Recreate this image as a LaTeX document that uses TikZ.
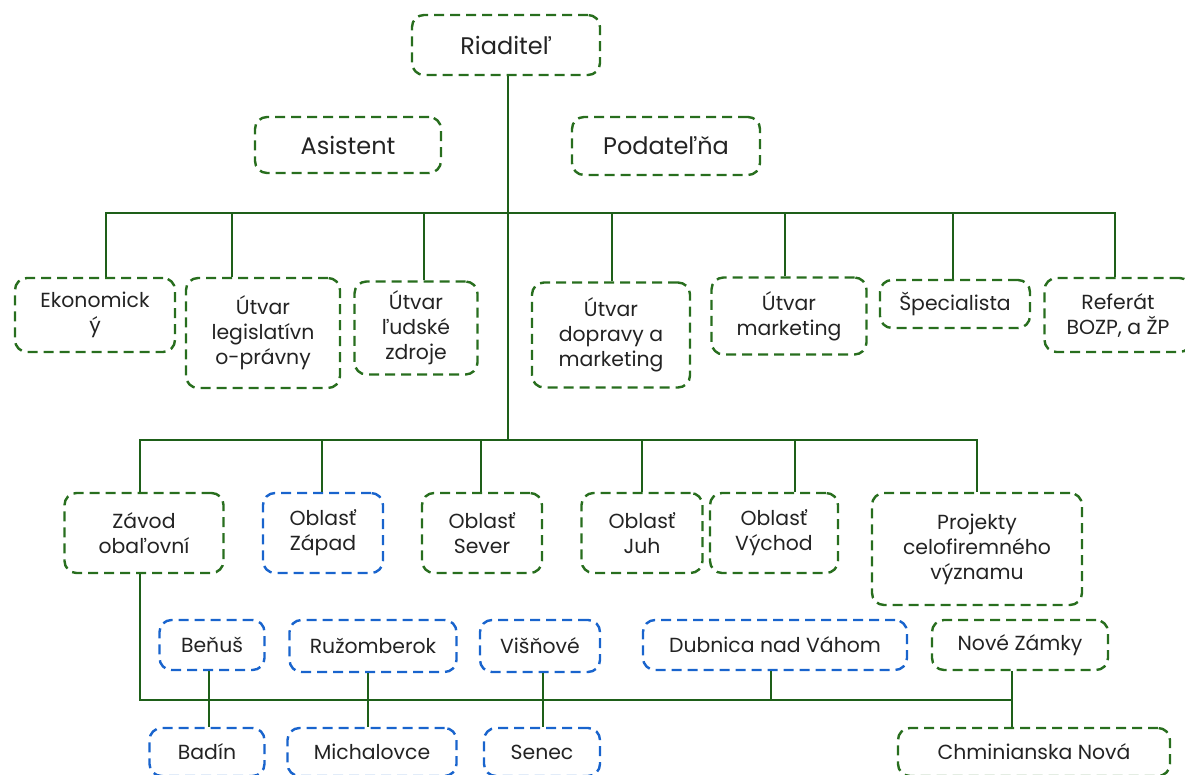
\documentclass[tikz,border=0pt]{standalone}
\usepackage{fontspec}
\setmainfont{Poppins}
\usepackage{tikz}
\definecolor{boxgreen}{RGB}{40,110,30}
\definecolor{linegreen}{RGB}{30,95,25}
\definecolor{boxblue}{RGB}{25,100,205}
\definecolor{txtgray}{RGB}{35,35,35}
\tikzset{
	gbox/.style={draw=boxgreen, line width=1.2pt, dash pattern=on 5pt off 3pt,
		rounded corners=6pt, align=center, inner sep=0pt, text=txtgray,
		font=\fontsize{10.2}{12.5}\selectfont},
	bbox/.style={gbox, draw=boxblue},
	bigbox/.style={gbox, font=\fontsize{12}{14}\selectfont},
	conn/.style={draw=linegreen, line width=1.1pt}
}

\begin{document}
\begin{tikzpicture}
	[ x=0.5pt, y=-0.5pt ]
	\useasboundingbox (0,0) rectangle (1185,775);
	% vedenie
	\node(riad)[bigbox, minimum width=94pt, minimum height=30pt] at (506,45) {Riaditeľ};
	\node(asist)[bigbox, minimum width=93pt, minimum height=28pt] at (348,145) {Asistent};
	\node(podat)[bigbox, minimum width=94pt, minimum height=29pt] at (666,146) {Podateľňa};
	% utvary
	\node(ekon)[gbox, minimum width=80pt, minimum height=37pt] at (95,315) {Ekonomick\\ý};
	\node(legis)[gbox, minimum width=77pt, minimum height=55pt] at (263,333) {Útvar\\legislatívn\\o-právny};
	\node(ludske)[gbox, minimum width=61.5pt, minimum height=46.5pt] at (416,328) {Útvar\\ľudské\\zdroje};
	\node(dopr)[gbox, minimum width=79pt, minimum height=52.5pt] at (611,335) {Útvar\\dopravy a\\marketing};
	\node(mark)[gbox, minimum width=77.5pt, minimum height=38.5pt] at (789,316) {Útvar\\marketing};
	\node(spec)[gbox, minimum width=75pt, minimum height=24pt] at (955,304) {Špecialista};
	\node(ref)[gbox, minimum width=73.5pt, minimum height=37pt] at (1118,315) {Referát\\BOZP, a ŽP};
	% oblasti
	\node(zavod)[gbox, minimum width=79.5pt, minimum height=40pt] at (144,533) {Závod\\obaľovní};
	\node(zapad)[bbox, minimum width=60pt, minimum height=40pt] at (323,533) {Oblasť\\Západ};
	\node(sever)[gbox, minimum width=60pt, minimum height=40pt] at (482,533) {Oblasť\\Sever};
	\node(juh)[gbox, minimum width=60.5pt, minimum height=40pt] at (642,533) {Oblasť\\Juh};
	\node(vych)[gbox, minimum width=64pt, minimum height=40pt] at (774,533) {Oblasť\\Východ};
	\node(proj)[gbox, minimum width=105pt, minimum height=56pt] at (977,549) {Projekty\\celofiremného\\významu};
	% prevadzky
	\node(benus)[bbox, minimum width=52.5pt, minimum height=25pt] at (212,645) {Beňuš};
	\node(ruzo)[bbox, minimum width=83.5pt, minimum height=26pt] at (373,646) {Ružomberok};
	\node(visn)[bbox, minimum width=60pt, minimum height=26pt] at (540,646) {Višňové};
	\node(dubn)[bbox, minimum width=132pt, minimum height=25pt] at (775,645) {Dubnica nad Váhom};
	\node(nzam)[gbox, minimum width=88pt, minimum height=25pt] at (1020,645) {Nové Zámky};
	\node(badin)[bbox, minimum width=57.5pt, minimum height=24pt] at (207,752) {Badín};
	\node(micha)[bbox, minimum width=84.5pt, minimum height=24pt] at (372,752) {Michalovce};
	\node(senec)[bbox, minimum width=58pt, minimum height=24pt] at (542,752) {Senec};
	\node(chmin)[gbox, minimum width=136pt, minimum height=24pt] at (1034,752) {Chminianska Nová};
	% spojenia
	\coordinate (b1) at (508,213);
	\coordinate (b2) at (508,440);
	\coordinate (b3) at (1012,700);
	\draw[conn] (riad.south -| b1) -- (b2);
	\draw[conn] ([xshift=5.5pt]ekon.north) |- (b1) -| ([xshift=-1.5pt]ref.north);
	\foreach \n/\s in {legis/-15.5, ludske/4, dopr/0.5, mark/-2, spec/-1}
		\draw[conn] ([xshift=\s pt]\n.north) -- ([xshift=\s pt]\n.north |- b1);
	\draw[conn] ([xshift=-2pt]zavod.north) |- (b2) -| (proj.north);
	\foreach \n/\s in {zapad/-0.5, sever/-0.5, juh/0, vych/10.5}
		\draw[conn] ([xshift=\s pt]\n.north) -- ([xshift=\s pt]\n.north |- b2);
	\draw[conn] ([xshift=-2pt]zavod.south) |- (b3);
	\draw[conn] ([xshift=-2pt]dubn.south) -- ([xshift=-2pt]dubn.south |- b3);
	\draw[conn] ([xshift=-4pt]nzam.south) -- ([xshift=-4pt]nzam.south |- chmin.north);
	\draw[conn] ([xshift=-1.5pt]benus.south) -- ([xshift=-1.5pt]benus.south |- badin.north);
	\draw[conn] ([xshift=-2.5pt]ruzo.south) -- ([xshift=-2.5pt]ruzo.south |- micha.north);
	\draw[conn] ([xshift=1.5pt]visn.south) -- ([xshift=1.5pt]visn.south |- senec.north);
\end{tikzpicture}
\end{document}
